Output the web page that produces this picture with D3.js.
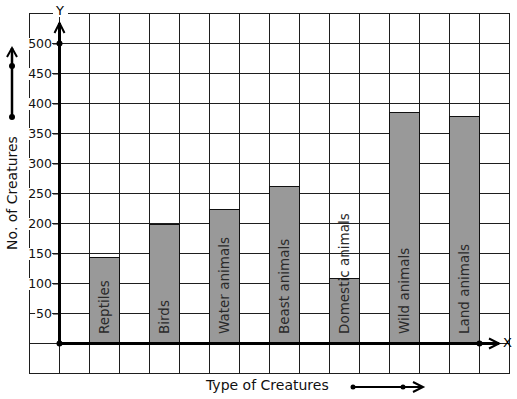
<!DOCTYPE html>
<html>
<head>
<meta charset="utf-8">
<script src="https://cdn.jsdelivr.net/npm/d3@7"></script>
<style>
  body { margin: 0; background: #fff; }
  text { font-family: "DejaVu Sans", Verdana, sans-serif; }
</style>
</head>
<body>
<div id="chart"></div>
<script>
const width = 517;
const height = 399;

const categories = ["Reptiles", "Birds", "Water animals", "Beast animals", "Domestic animals", "Wild animals", "Land animals"];
const values = [143, 198, 224, 262, 108, 385, 378];
const yTicks = [50, 100, 150, 200, 250, 300, 350, 400, 450, 500];

let svg = d3.select("#chart").append("svg")
    .attr("width", width)
    .attr("height", height);

// columns of the squared paper, the y axis sits on column 0
let x = d3.scaleLinear().domain([-1, 15]).range([29, 509]);
let y = d3.scaleLinear().domain([0, 500]).range([343, 43]);

const gridColor = "#1e1e1e";

// grid
svg.append("g").selectAll("line")
    .data(d3.range(-1, 16))
    .enter().append("line")
    .attr("x1", d => x(d) + 0.5).attr("x2", d => x(d) + 0.5)
    .attr("y1", y(550)).attr("y2", y(-50) + 1)
    .attr("stroke", gridColor).attr("stroke-width", 1);

svg.append("g").selectAll("line")
    .data(d3.range(-50, 551, 50))
    .enter().append("line")
    .attr("x1", x(-1)).attr("x2", x(15) + 1)
    .attr("y1", d => y(d) + 0.5).attr("y2", d => y(d) + 0.5)
    .attr("stroke", gridColor).attr("stroke-width", 1);

// bars
svg.append("g").selectAll("rect")
    .data(values)
    .enter().append("rect")
    .attr("x", (d, i) => x(1 + 2 * i) + 0.5)
    .attr("width", x(2) - x(1))
    .attr("y", d => Math.round(y(d)) + 0.5)
    .attr("height", d => y(0) - Math.round(y(d)))
    .attr("fill", "#999999")
    .attr("stroke", "#111")
    .attr("stroke-width", 1);

// bar labels
svg.append("g").selectAll("text")
    .data(categories)
    .enter().append("text")
    .attr("transform", (d, i) => `translate(${x(1.5 + 2 * i) + 4.5},${y(0) - 9}) rotate(-90)`)
    .attr("text-anchor", "start")
    .style("font-size", "13.5px")
    .attr("fill", "#2a2a2a")
    .text(d => d);

// y axis ticks
let yAxis = svg.append("g")
    .attr("transform", `translate(${x(0)},0.5)`)
    .call(d3.axisLeft(y).tickValues(yTicks).tickSize(6).tickPadding(1).tickFormat(d3.format("d")));
yAxis.select(".domain").remove();
yAxis.selectAll(".tick line").attr("stroke", "#111");
yAxis.selectAll(".tick text")
    .style("font-size", "12.5px")
    .style("font-family", "DejaVu Sans, Verdana, sans-serif")
    .attr("fill", "#111");
yAxis.selectAll(".tick").each(function() {
    let t = d3.select(this).select("text");
    let b = t.node().getBBox();
    d3.select(this).insert("rect", "text")
        .attr("x", b.x - 1).attr("y", b.y + 2)
        .attr("width", b.width + 1).attr("height", b.height - 3)
        .attr("fill", "#fff");
});

// axis lines
svg.append("line")
    .attr("x1", x(0) + 0.5).attr("x2", x(0) + 0.5)
    .attr("y1", y(0)).attr("y2", 23)
    .attr("stroke", "#000").attr("stroke-width", 3);
svg.append("path")
    .attr("d", `M${x(0) - 4.5},33 L${x(0) + 0.5},23 L${x(0) + 5.5},33`)
    .attr("fill", "none").attr("stroke", "#000").attr("stroke-width", 2);

svg.append("line")
    .attr("x1", x(0)).attr("x2", 499)
    .attr("y1", y(0) + 0.5).attr("y2", y(0) + 0.5)
    .attr("stroke", "#000").attr("stroke-width", 3);
svg.append("path")
    .attr("d", `M489,${y(0) - 4.5} L499,${y(0) + 0.5} L489,${y(0) + 5.5}`)
    .attr("fill", "none").attr("stroke", "#000").attr("stroke-width", 2);

svg.selectAll(".axisdot")
    .data([[x(0), y(500)], [x(0), y(0)], [x(14), y(0)]])
    .enter().append("circle")
    .attr("cx", d => d[0] + 0.5).attr("cy", d => d[1] + 0.5)
    .attr("r", 3).attr("fill", "#000");

// axis letters
svg.append("rect")
    .attr("x", 53).attr("y", 3).attr("width", 15).attr("height", 14)
    .attr("fill", "#fff");
svg.append("text")
    .attr("x", 60).attr("y", 15)
    .attr("text-anchor", "middle")
    .style("font-size", "13px")
    .text("Y");
svg.append("text")
    .attr("x", 503).attr("y", 347)
    .style("font-size", "13px")
    .text("X");

// axis titles
svg.append("text")
    .attr("transform", "translate(17,193) rotate(-90)")
    .attr("text-anchor", "middle")
    .style("font-size", "14px")
    .attr("fill", "#111")
    .text("No. of Creatures");

svg.append("text")
    .attr("x", 206).attr("y", 390)
    .style("font-size", "14px")
    .attr("fill", "#111")
    .text("Type of Creatures");

// decorative arrows beside the titles
svg.append("line")
    .attr("x1", 12).attr("x2", 12).attr("y1", 117).attr("y2", 48)
    .attr("stroke", "#000").attr("stroke-width", 2.5);
svg.append("path")
    .attr("d", "M7,57 L12,48 L17,57")
    .attr("fill", "none").attr("stroke", "#000").attr("stroke-width", 2);
svg.selectAll(".ldot")
    .data([[12, 66], [12, 117]])
    .enter().append("circle")
    .attr("cx", d => d[0]).attr("cy", d => d[1])
    .attr("r", 3).attr("fill", "#000");

svg.append("line")
    .attr("x1", 353).attr("x2", 423).attr("y1", 387).attr("y2", 387)
    .attr("stroke", "#000").attr("stroke-width", 2);
svg.append("path")
    .attr("d", "M413,382 L423,387 L413,392")
    .attr("fill", "none").attr("stroke", "#000").attr("stroke-width", 2);
svg.selectAll(".bdot")
    .data([[353, 387], [403, 387]])
    .enter().append("circle")
    .attr("cx", d => d[0]).attr("cy", d => d[1])
    .attr("r", 2.5).attr("fill", "#000");
</script>
</body>
</html>
